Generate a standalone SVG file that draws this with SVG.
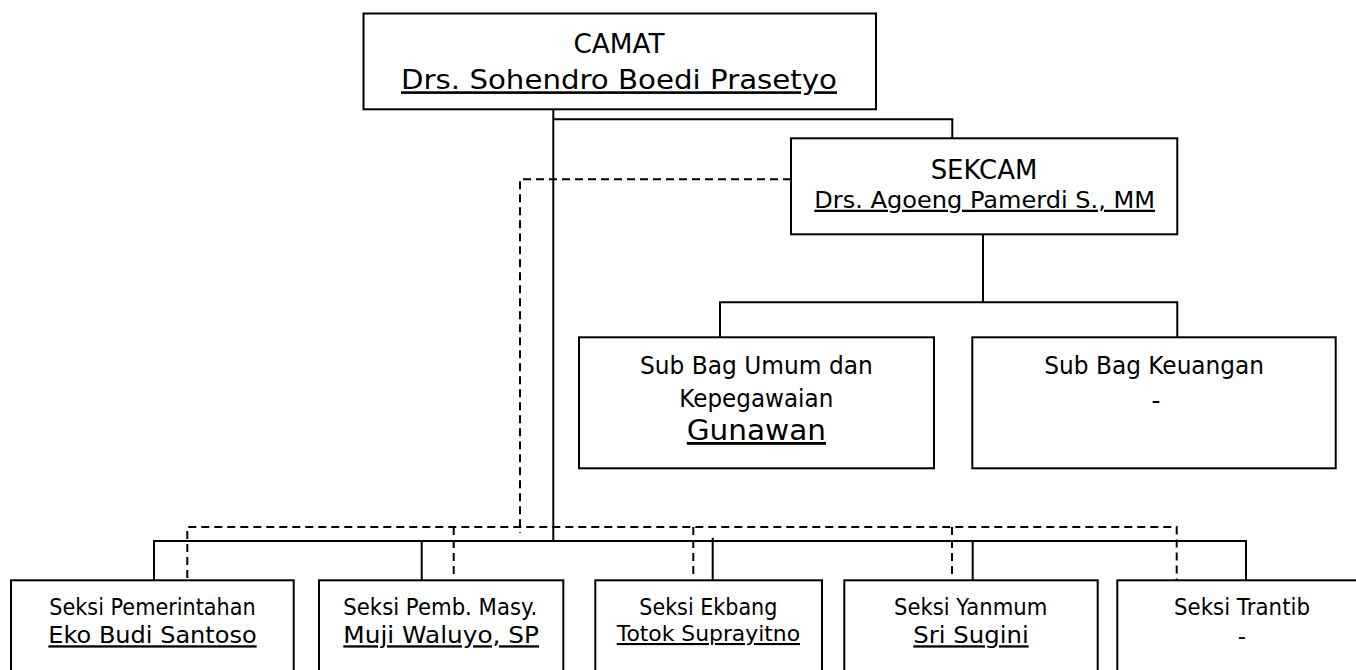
<svg xmlns="http://www.w3.org/2000/svg" width="1356" height="670" viewBox="0 0 1356 670">
<style>
  .box { fill: #ffffff; stroke: #000000; stroke-width: 2; }
  .ln { fill: none; stroke: #000000; stroke-width: 2; }
  .dash { fill: none; stroke: #000000; stroke-width: 2; stroke-dasharray: 8 5; }
  text { font-family: "DejaVu Sans", "Liberation Sans", sans-serif; fill: #000000; text-anchor: middle; }
  .u { text-decoration: underline; }
</style>
<rect width="1356" height="670" fill="#ffffff"/>
<g id="connectors">
  <path class="ln" d="M553.3,109 V541"/>
  <path class="ln" d="M553.3,119.3 H952.3 V138"/>
  <path class="ln" d="M983,234.3 V302.3"/>
  <path class="ln" d="M720,337.3 V302.3 H1177.3 V337.3"/>
  <path class="ln" d="M154,580.3 V541 H1246 V580.3"/>
  <path class="ln" d="M421.7,541 V580.3"/>
  <path class="ln" d="M712.7,537.7 V580.3"/>
  <path class="ln" d="M972.7,541 V580.3"/>
  <path class="dash" d="M791,179.3 H520 V533"/>
  <path class="dash" d="M187.3,578 V527 H1176.7 V580"/>
  <path class="dash" d="M453.7,527 V578"/>
  <path class="dash" d="M693.3,527 V578"/>
  <path class="dash" d="M952,527 V578"/>
</g>
<g id="camat">
  <rect class="box" x="363.5" y="13.5" width="512.5" height="95.8"/>
  <text x="619" y="53.3" font-size="27" textLength="91" lengthAdjust="spacingAndGlyphs">CAMAT</text>
  <text class="u" x="619" y="89.3" font-size="26" textLength="436" lengthAdjust="spacingAndGlyphs">Drs. Sohendro Boedi Prasetyo</text>
</g>
<g id="sekcam">
  <rect class="box" x="791" y="138.3" width="386.3" height="96"/>
  <text x="984" y="179.3" font-size="27" textLength="106.7" lengthAdjust="spacingAndGlyphs">SEKCAM</text>
  <text class="u" x="984.7" y="207.7" font-size="23" textLength="340.7" lengthAdjust="spacingAndGlyphs">Drs. Agoeng Pamerdi S., MM</text>
</g>
<g id="subbag-umum">
  <rect class="box" x="579" y="337.3" width="355" height="131"/>
  <text x="756.4" y="374" font-size="25" textLength="232.7" lengthAdjust="spacingAndGlyphs">Sub Bag Umum dan</text>
  <text x="756.3" y="406.7" font-size="25" textLength="154" lengthAdjust="spacingAndGlyphs">Kepegawaian</text>
  <text class="u" x="756.4" y="440" font-size="28" textLength="139.3" lengthAdjust="spacingAndGlyphs">Gunawan</text>
</g>
<g id="subbag-keuangan">
  <rect class="box" x="972.3" y="337.3" width="363.4" height="131"/>
  <text x="1154.2" y="374" font-size="25" textLength="219.7" lengthAdjust="spacingAndGlyphs">Sub Bag Keuangan</text>
  <text x="1156" y="409" font-size="25">-</text>
</g>
<g id="seksi-pemerintahan">
  <rect class="box" x="11" y="580.3" width="282.7" height="100"/>
  <text x="152.5" y="615" font-size="23" textLength="206.3" lengthAdjust="spacingAndGlyphs">Seksi Pemerintahan</text>
  <text class="u" x="152.5" y="643.3" font-size="23" textLength="208.3" lengthAdjust="spacingAndGlyphs">Eko Budi Santoso</text>
</g>
<g id="seksi-pemb-masy">
  <rect class="box" x="319" y="580.3" width="244.3" height="100"/>
  <text x="440.3" y="615" font-size="23" textLength="194" lengthAdjust="spacingAndGlyphs">Seksi Pemb. Masy.</text>
  <text class="u" x="441.2" y="643.3" font-size="23" textLength="195.7" lengthAdjust="spacingAndGlyphs">Muji Waluyo, SP</text>
</g>
<g id="seksi-ekbang">
  <rect class="box" x="595.3" y="580.3" width="226.7" height="100"/>
  <text x="708.3" y="615" font-size="23" textLength="138" lengthAdjust="spacingAndGlyphs">Seksi Ekbang</text>
  <text class="u" x="708.4" y="641" font-size="21" textLength="183.3" lengthAdjust="spacingAndGlyphs">Totok Suprayitno</text>
</g>
<g id="seksi-yanmum">
  <rect class="box" x="844.3" y="580.3" width="253.4" height="100"/>
  <text x="970.7" y="615" font-size="23" textLength="153.3" lengthAdjust="spacingAndGlyphs">Seksi Yanmum</text>
  <text class="u" x="971" y="643.3" font-size="23" textLength="115.3" lengthAdjust="spacingAndGlyphs">Sri Sugini</text>
</g>
<g id="seksi-trantib">
  <rect class="box" x="1117.3" y="580.3" width="250" height="100"/>
  <text x="1242" y="615" font-size="23" textLength="136" lengthAdjust="spacingAndGlyphs">Seksi Trantib</text>
  <text x="1242" y="644" font-size="23">-</text>
</g>
</svg>
